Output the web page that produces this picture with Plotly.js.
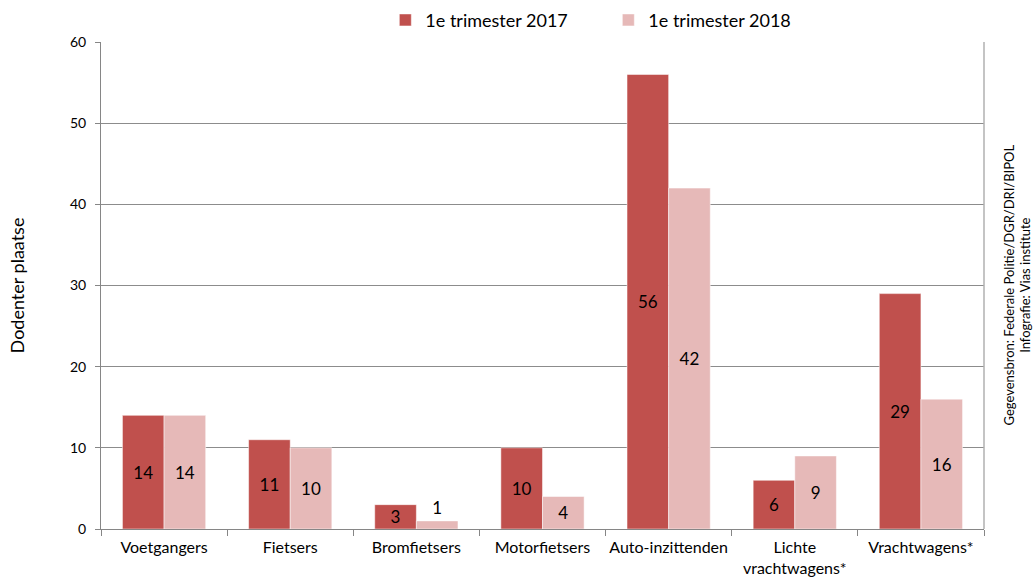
<!DOCTYPE html>
<html>
<head>
<meta charset="utf-8">
<script src="https://cdn.plot.ly/plotly-3.0.1.min.js"></script>
<style>html,body{margin:0;padding:0;background:#fff;}#chart{width:1034px;height:581px;}</style>
</head>
<body>
<div id="chart"></div>
<script>
const categories = ["Voetgangers", "Fietsers", "Bromfietsers", "Motorfietsers", "Auto-inzittenden", "Lichte<br>vrachtwagens*", "Vrachtwagens*"];
const values2017 = [14, 11, 3, 10, 56, 6, 29];
const values2018 = [14, 10, 1, 4, 42, 9, 16];
const seriesNames = ["1e trimester 2017", "1e trimester 2018"];
const yTicks = [0, 10, 20, 30, 40, 50, 60];

const FONT = "Lato, 'Open Sans', sans-serif";
function pos(vals){ return vals.map(v => v < 3 ? "outside" : "inside"); }

const traces = [
  {type:"bar", name:seriesNames[0], x:categories, y:values2017,
   marker:{color:"#C0504D", line:{color:"#ffffff", width:0.5}},
   text:values2017.map(String), textposition:pos(values2017), insidetextanchor:"middle",
   textangle:0, constraintext:"none", cliponaxis:false,
   textfont:{family:FONT, size:17, color:"#000"}, hoverinfo:"none"},
  {type:"bar", name:seriesNames[1], x:categories, y:values2018,
   marker:{color:"#E6B9B8", line:{color:"#ffffff", width:0.5}},
   text:values2018.map(String), textposition:pos(values2018), insidetextanchor:"middle",
   textangle:0, constraintext:"none", cliponaxis:false,
   textfont:{family:FONT, size:17, color:"#000"}, hoverinfo:"none"}
];

const layout = {
  width:1034, height:581,
  margin:{l:101, r:50, t:42, b:52},
  paper_bgcolor:"#fff", plot_bgcolor:"#fff",
  font:{family:FONT, color:"#000"},
  barmode:"group", bargap:0.34, bargroupgap:0,
  showlegend:true,
  legend:{orientation:"h", xref:"paper", x:0.322, xanchor:"left",
          yref:"container", y:0.997, yanchor:"top",
          font:{family:FONT, size:18}, traceorder:"normal", entrywidth:178},
  xaxis:{type:"category", tickson:"boundaries", ticks:"outside", ticklen:6, tickcolor:"#868686",
         showline:true, linecolor:"#868686", linewidth:1, mirror:false, tickangle:0,
         tickfont:{family:FONT, size:16, color:"#000"}, ticklabelstandoff:4,
         showgrid:false, fixedrange:true, automargin:false},
  yaxis:{range:[0,60], tickvals:yTicks, ticktext:yTicks.map(String), ticks:"outside", ticklen:5,
         tickcolor:"#868686", showline:true, linecolor:"#868686", linewidth:1,
         showgrid:true, gridcolor:"#8c8c8c", gridwidth:1, zeroline:false,
         tickfont:{family:FONT, size:14, color:"#000"}, ticklabelstandoff:6,
         title:{text:"Dodenter plaatse", font:{family:FONT, size:18, color:"#000"}, standoff:40},
         fixedrange:true, automargin:false},
  shapes:[{type:"line", xref:"paper", yref:"paper", x0:1, x1:1, y0:0, y1:1,
           line:{color:"#b0b0b0", width:1.5}}],
  annotations:[{xref:"paper", yref:"paper", x:1.0374, y:0.5, xanchor:"center", yanchor:"middle",
                textangle:-90, showarrow:false, align:"center",
                text:"Gegevensbron: Federale Politie/DGR/DRI/BIPOL<br>Infografie: Vias institute",
                font:{family:FONT, size:13, color:"#000"}}]
};

Plotly.newPlot("chart", traces, layout, {displayModeBar:false, staticPlot:true});
</script>
</body>
</html>
